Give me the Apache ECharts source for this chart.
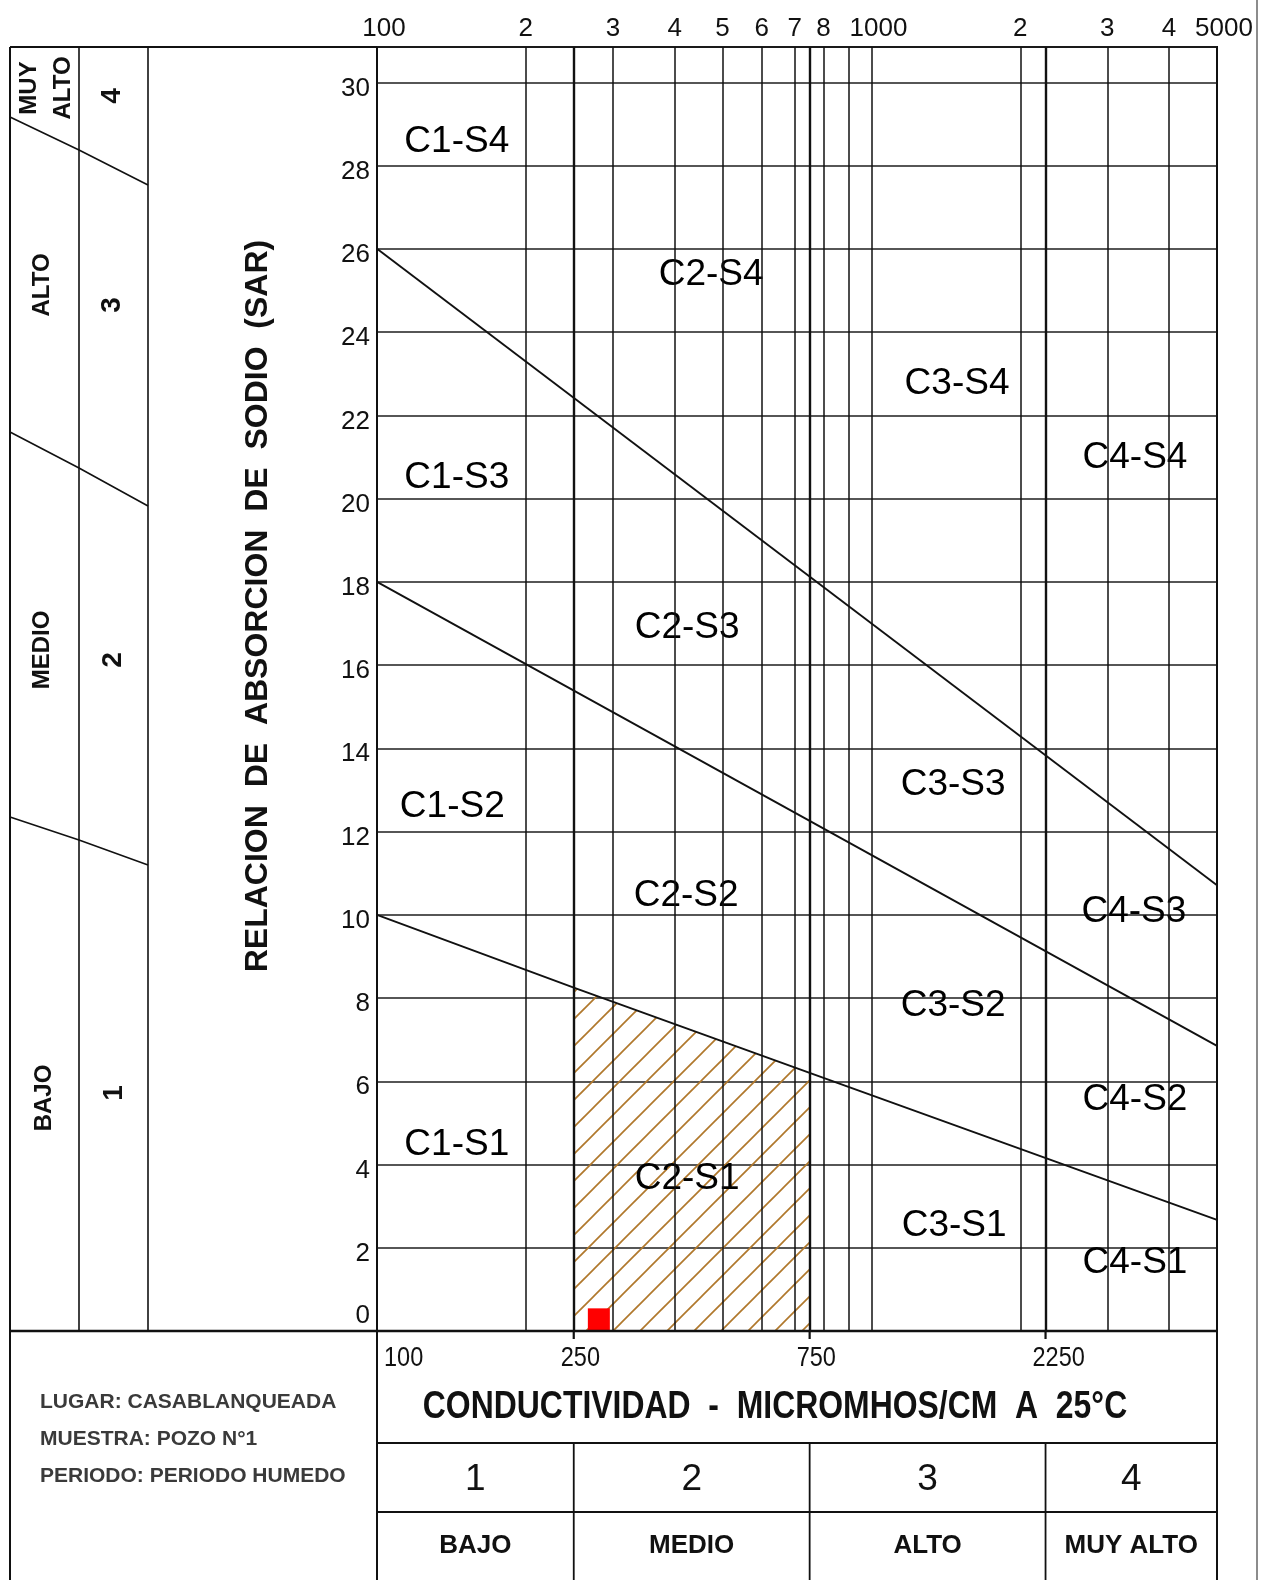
<!DOCTYPE html>
<html><head><meta charset="utf-8">
<script src="https://cdn.jsdelivr.net/npm/echarts@6/dist/echarts.min.js"></script>
<style>html,body{margin:0;padding:0;background:#fff}#c{width:1265px;height:1580px}</style>
</head><body><div id="c"></div>
<script>
// ---------------- DATA ----------------
const gridValues = [100,200,250,300,400,500,600,700,750,800,900,1000,2000,2250,3000,4000,5000];
const topTickLabels = {100:'100',200:'2',300:'3',400:'4',500:'5',600:'6',700:'7',800:'8',1000:'1000',2000:'2',3000:'3',4000:'4',5000:'5000'};
const classLimits = [250, 750, 2250];
const bottomTickValues = [100, 250, 750, 2250];
const bottomTickLabels = ['100', '250', '750', '2250'];
const boundaryS1S2 = [[100,10],[250,8.25],[750,6.2],[5000,2.67]];
const boundaryS2S3 = [[100,18],[5000,6.85]];
const boundaryS3S4 = [[100,26],[5000,10.71]];
const zoneNames = ['C1-S4','C2-S4','C3-S4','C4-S4','C1-S3','C2-S3','C3-S3','C4-S3','C1-S2','C2-S2','C3-S2','C4-S2','C1-S1','C2-S1','C3-S1','C4-S1'];
const zoneX = [145,474,1490,3413, 145,424,1463,3396, 142,422,1463,3413, 145,424,1470,3413];
const zoneY = [28.58,25.37,22.75,20.97, 20.51,16.89,13.12,10.06, 12.59,10.45,7.81,5.55, 4.47,3.65,2.52,1.63];
const sampleEC = [281];
const sampleSAR = [0.28];
const salinityNumbers = ['1','2','3','4'];
const salinityNames = ['BAJO','MEDIO','ALTO','MUY ALTO'];
const infoLines = ['LUGAR: CASABLANQUEADA','MUESTRA: POZO N°1','PERIODO: PERIODO HUMEDO'];

// ---------------- STYLE ----------------
const NARROW = "'Liberation Sans Narrow','Arial Narrow','Liberation Sans',Arial,sans-serif";
const SANS = "'Liberation Sans',Arial,Helvetica,sans-serif";
const INK = '#111';

// hatch pattern
const pat = document.createElement('canvas');
pat.width = 27; pat.height = 27;
(function(){
  const g = pat.getContext('2d');
  g.strokeStyle = '#b0782c'; g.lineWidth = 1.7;
  [0, 27, 54].forEach(k => { g.beginPath(); g.moveTo(-2, k + 2); g.lineTo(k + 2, -2); g.stroke(); });
})();

const chart = echarts.init(document.getElementById('c'), null, {renderer: 'canvas'});
const hatchData = boundaryS1S2.filter(p => p[0] >= 250 && p[0] <= 750);

const option = {
  animation: false,
  backgroundColor: '#fff',
  grid: {left: 377, top: 47, width: 840, height: 1284, show: true, borderColor: INK, borderWidth: 2, containLabel: false, outerBoundsMode: 'none'},
  xAxis: {type: 'log', logBase: 10, min: 100, max: 5000,
    axisLine: {show: false}, axisTick: {show: false}, axisLabel: {show: false}, splitLine: {show: false}, minorTick: {show: false}},
  yAxis: {type: 'value', min: 0, max: 30.85, interval: 2,
    axisLine: {show: false}, axisTick: {show: false},
    splitLine: {show: true, lineStyle: {color: '#1e1e1e', width: 1.5}},
    axisLabel: {margin: 7, showMaxLabel: false,
      formatter: v => (v % 2 !== 0 || v > 30) ? '' : (v === 0 ? '{z|0}' : '{n|' + v + '}'),
      rich: {
        n: {fontSize: 26, fontFamily: NARROW, color: INK, padding: [12, 0, 0, 0]},
        z: {fontSize: 26, fontFamily: NARROW, color: INK, padding: [0, 0, 30, 0]}
      }}
  },
  series: [
    {type: 'line', name: 'hatch', data: hatchData, symbol: 'none', z: 1,
      lineStyle: {width: 0, opacity: 0}, areaStyle: {color: {image: pat, repeat: 'repeat'}, opacity: 1}},
    {type: 'line', name: 'vgrid', data: [], z: 2,
      markLine: {silent: true, symbol: ['none', 'none'], animation: false,
        label: {show: true, position: 'end', distance: 5, color: INK, fontSize: 26, fontFamily: NARROW, formatter: '{b}'},
        data: gridValues.map(v => ({
          xAxis: v, name: topTickLabels[v] || '',
          lineStyle: {type: 'solid', color: INK, width: classLimits.includes(v) ? 2.4 : 1.5},
          label: (v === 100 || v === 1000 || v === 5000) ? {padding: [0, 0, 0, 14]} : {}
        }))}},
    {type: 'line', name: 'S1-S2', data: boundaryS1S2, symbol: 'none', z: 3, lineStyle: {color: INK, width: 1.9}},
    {type: 'line', name: 'S2-S3', data: boundaryS2S3, symbol: 'none', z: 3, lineStyle: {color: INK, width: 1.9}},
    {type: 'line', name: 'S3-S4', data: boundaryS3S4, symbol: 'none', z: 3, lineStyle: {color: INK, width: 1.9}},
    {type: 'scatter', name: 'zones', z: 4, symbolSize: 1, itemStyle: {color: 'transparent', opacity: 1},
      data: zoneNames.map((n, i) => ({name: n, value: [zoneX[i], zoneY[i]]})),
      label: {show: true, position: 'inside', formatter: '{b}', fontSize: 37, fontFamily: SANS, color: '#000', opacity: 1, textBorderWidth: 0}},
    {type: 'scatter', name: 'muestra', z: 5, symbol: 'rect', symbolSize: 22, itemStyle: {color: '#ff0000', opacity: 1},
      data: sampleEC.map((v, i) => [v, sampleSAR[i]])}
  ]
};
chart.setOption(option);

// ---------------- LAYOUT (frame, tables, side panel) ----------------
const px = v => chart.convertToPixel({xAxisIndex: 0}, v);
const L = (x1, y1, x2, y2, w, c) => ({type: 'line', silent: true, z: 10, shape: {x1, y1, x2, y2}, style: {stroke: c || INK, lineWidth: w || 1.6}});
const P = (pts, w) => ({type: 'polyline', silent: true, z: 10, shape: {points: pts}, style: {stroke: INK, lineWidth: w || 1.6, fill: null}});
const T = (x, y, text, size, opts) => Object.assign({type: 'text', silent: true, z: 11, x, y,
  style: Object.assign({text, fontSize: size, fontFamily: SANS, fill: INK, align: 'center', verticalAlign: 'middle'}, (opts && opts.style) || {})},
  (opts && opts.el) || {});

const xL = px(100), xR = px(5000);
const cols = [xL].concat(classLimits.map(px)).concat([xR]);
const yTop = 47, yBot = 1331, yRow1 = 1443, yRow2 = 1512, yEnd = 1580;
const g = [];
// outer frame
g.push(L(10, yTop, 10, yEnd, 2));
g.push(L(10, yTop, xL, yTop, 2));
g.push(L(10, yBot, xL, yBot, 2.6));
g.push(L(xL, yBot, xR, yBot, 2.6));
g.push(L(xL, yBot, xL, yEnd, 2));
g.push(L(xR, yBot, xR, yEnd, 2));
g.push(L(1257, 0, 1257, yEnd, 2, '#8c8c8c'));
// side panel columns
g.push(L(79, yTop, 79, yBot, 1.6));
g.push(L(148, yTop, 148, yBot, 1.6));
g.push(P([[10,117],[79,150],[148,185]]));
g.push(P([[10,432],[79,468],[148,506]]));
g.push(P([[10,817],[79,840],[148,865]]));
// side labels (rotated)
const rot = Math.PI / 2;
const B = {fontWeight: 'bold'};
g.push(T(46, 88, 'MUY\nALTO', 24, {style: Object.assign({lineHeight: 34}, B), el: {rotation: rot}}));
g.push(T(42, 285, 'ALTO', 24, {style: B, el: {rotation: rot}}));
g.push(T(42, 650, 'MEDIO', 24, {style: B, el: {rotation: rot}}));
g.push(T(44, 1098, 'BAJO', 24, {style: B, el: {rotation: rot}}));
g.push(T(112, 96, '4', 28, {style: B, el: {rotation: rot}}));
g.push(T(112, 305, '3', 28, {style: B, el: {rotation: rot}}));
g.push(T(113, 660, '2', 28, {style: B, el: {rotation: rot}}));
g.push(T(114, 1093, '1', 28, {style: B, el: {rotation: rot}}));
g.push(T(258, 606, 'RELACION  DE  ABSORCION  DE  SODIO  (SAR)', 32, {style: B, el: {rotation: rot}}));
// ticks under class limits and their labels
classLimits.forEach(v => g.push(L(px(v), yBot, px(v), yBot + 8, 2.2)));
bottomTickValues.forEach((v, i) => g.push(T(px(v) + (v === 100 ? 7 : -13), 1358, bottomTickLabels[i], 28,
  {style: {fontFamily: NARROW, align: 'left'}, el: {scaleX: 0.84}})));
// bottom table
g.push(L(xL, yRow1, xR, yRow1, 1.8));
g.push(L(xL, yRow2, xR, yRow2, 1.8));
classLimits.forEach(v => g.push(L(px(v), yRow1, px(v), yEnd, 1.8)));
g.push(T(775, 1408, 'CONDUCTIVIDAD  -  MICROMHOS/CM  A  25°C', 38, {style: {fontFamily: NARROW, fontWeight: 'bold'}, el: {scaleX: 0.84}}));
for (let i = 0; i < 4; i++) {
  const cx = (cols[i] + cols[i + 1]) / 2;
  g.push(T(cx, 1480, salinityNumbers[i], 37));
  g.push(T(cx, 1546, salinityNames[i], 26, {style: B}));
}
// info box
infoLines.forEach((t, i) => g.push(T(40, 1402 + i * 37, t, 21, {style: {fontWeight: 'bold', align: 'left', fill: '#3a3a3a'}})));

chart.setOption({graphic: g});
</script>
</body></html>
